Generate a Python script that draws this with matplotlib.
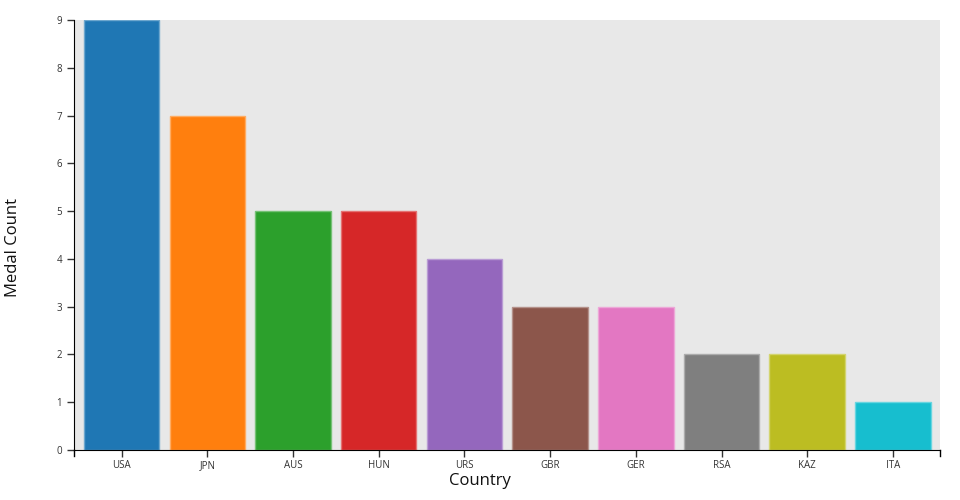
import matplotlib.pyplot as plt
import matplotlib.colors as mcolors
import numpy as np

plt.rcParams['font.family'] = ['Open Sans', 'DejaVu Sans']

countries = ["USA", "JPN", "AUS", "HUN", "URS", "GBR", "GER", "RSA", "KAZ", "ITA"]
medals = [9, 7, 5, 5, 4, 3, 3, 2, 2, 1]
colors = ['#1f77b4', '#ff7f0e', '#2ca02c', '#d62728', '#9467bd',
          '#8c564b', '#e377c2', '#7f7f7f', '#bcbd22', '#17becf']


def lighter(c, amt=0.35):
    r, g, b = mcolors.to_rgb(c)
    return (r + (1 - r) * amt, g + (1 - g) * amt, b + (1 - b) * amt)


fig = plt.figure(figsize=(9.6, 5.0), dpi=100)
ax = fig.add_axes([74 / 960, 50 / 500, 866 / 960, 430 / 500])
ax.set_facecolor('#e8e8e8')

x = np.arange(len(countries))
ax.bar(x, medals, width=0.88, color=colors,
       edgecolor=[lighter(c) for c in colors], linewidth=1, zorder=2)

ax.set_xlim(-0.557, 9.55)
ax.set_ylim(0, 9)
ax.set_xticks(x)
ax.set_xticklabels(countries)
ax.set_yticks(range(0, 10))

ax.tick_params(axis='both', labelsize=7, colors='#333333', length=5, width=1)
ax.tick_params(axis='x', pad=2)
for lab in ax.get_xticklabels() + ax.get_yticklabels():
    lab.set_color('#333333')

ax.spines['top'].set_visible(False)
ax.spines['right'].set_visible(False)
ax.spines['left'].set_color('black')
ax.spines['bottom'].set_color('black')

# outer ticks at the ends of the x axis, like d3
tick_len = 6 / 430
ax.plot([0, 0], [0, -tick_len], transform=ax.transAxes, color='black', lw=1, clip_on=False)
ax.plot([1, 1], [0, -tick_len], transform=ax.transAxes, color='black', lw=1, clip_on=False)

ax.set_xlabel("Country", fontsize=12, color='#111111')
ax.set_ylabel("Medal Count", fontsize=12, color='#111111')
ax.xaxis.set_label_coords(0.469, -0.054)
ax.yaxis.set_label_coords(-0.061, 0.47)

fig.savefig("out.png", dpi=100)
